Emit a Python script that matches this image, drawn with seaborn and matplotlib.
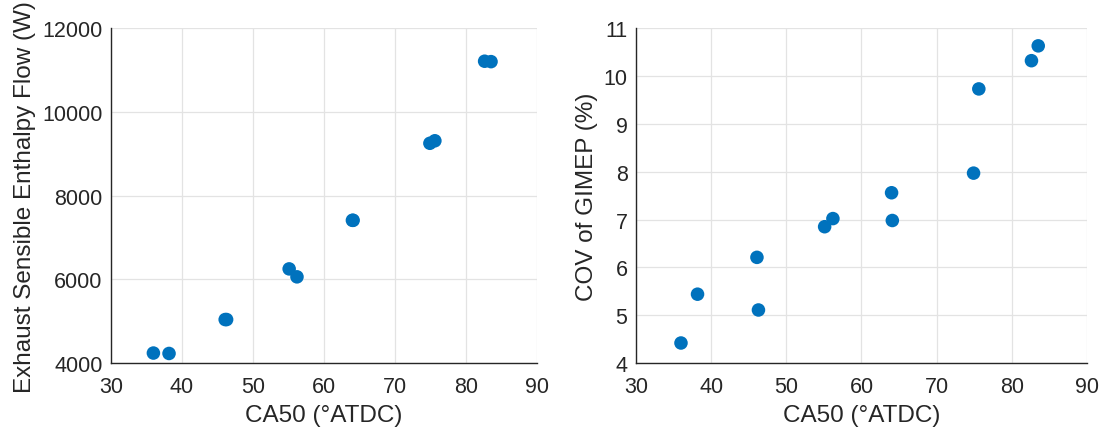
import matplotlib
matplotlib.use("Agg")
import matplotlib.pyplot as plt
import seaborn as sns
import pandas as pd

# Combustion phasing sweep
ca50 = [36.0, 38.2, 46.1, 46.3, 55.1, 56.2, 64.0, 64.1, 74.9, 75.6, 82.6, 83.5]
enthalpy_w = [4240, 4230, 5040, 5040, 6250, 6060, 7410, 7410, 9250, 9310, 11210, 11200]
cov_gimep = [4.42, 5.44, 6.21, 5.11, 6.85, 7.02, 7.56, 6.98, 7.97, 9.73, 10.32, 10.63]

x_ticks = [30, 40, 50, 60, 70, 80, 90]
y1_ticks = [4000, 6000, 8000, 10000, 12000]
y2_ticks = [4, 5, 6, 7, 8, 9, 10, 11]

df = pd.DataFrame({"ca50": ca50, "enthalpy": enthalpy_w, "cov": cov_gimep})

sns.set_theme(style="white")
plt.rcParams["font.family"] = ["Liberation Sans", "DejaVu Sans"]

blue = "#0072BD"
text_col = "#262626"
axis_col = "#262626"

fig = plt.figure(figsize=(11.02, 4.35), dpi=100)
ax1 = fig.add_axes([0.1005, 0.163, 0.3870, 0.770])
ax2 = fig.add_axes([0.5770, 0.163, 0.4095, 0.770])

panels = [
    (ax1, "enthalpy", "Exhaust Sensible Enthalpy Flow (W)", y1_ticks),
    (ax2, "cov", "COV of GIMEP (%)", y2_ticks),
]

for ax, col, ylabel, yt in panels:
    sns.scatterplot(data=df, x="ca50", y=col, ax=ax, color=blue, s=95,
                    edgecolor="none", linewidth=0, zorder=3)
    ax.set_xlim(x_ticks[0], x_ticks[-1])
    ax.set_ylim(yt[0], yt[-1])
    ax.set_xticks(x_ticks)
    ax.set_yticks(yt)
    ax.grid(True, color="#e3e3e3", linewidth=0.9, zorder=0)
    ax.set_axisbelow(True)
    for side in ("top", "right"):
        ax.spines[side].set_visible(False)
    for side in ("left", "bottom"):
        ax.spines[side].set_color(axis_col)
        ax.spines[side].set_linewidth(1.0)
    ax.tick_params(axis="both", direction="in", length=4, width=1.0,
                   color=axis_col, labelsize=15.5, labelcolor=text_col)
    ax.tick_params(axis="x", pad=9)
    ax.tick_params(axis="y", pad=6)
    ax.set_xlabel("CA50 (°ATDC)", fontsize=17.5, color=text_col, labelpad=5)
    ax.set_ylabel(ylabel, fontsize=17.5, color=text_col, labelpad=4)

fig.savefig("out.png", dpi=100, facecolor="white")
